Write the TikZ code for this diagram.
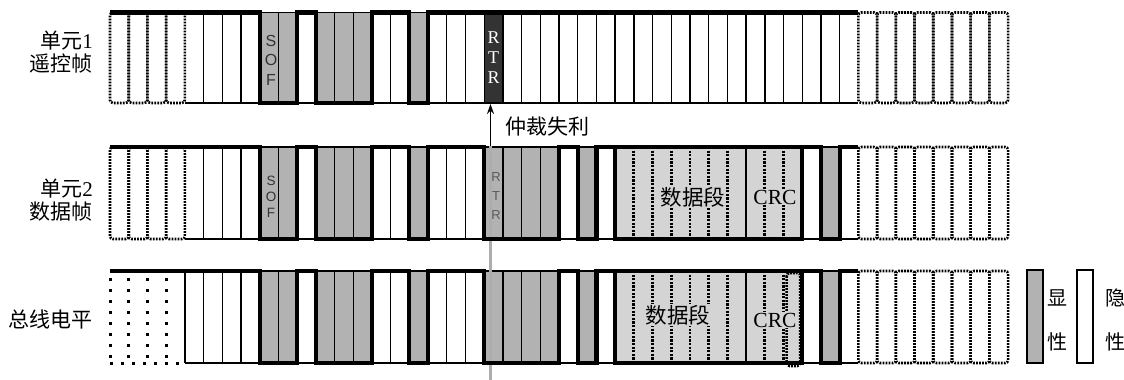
\documentclass[tikz,border=0pt]{standalone}
\usepackage{fontspec}
\setmainfont{Liberation Serif}
\setsansfont{Liberation Sans}
\newfontfamily\cjk{Noto Sans CJK SC}
\usetikzlibrary{arrows.meta}
\definecolor{domgrey}{gray}{0.70}
\definecolor{datagrey}{gray}{0.83}
\definecolor{rtrdark}{gray}{0.20}
\definecolor{guidegrey}{gray}{0.68}
\newcommand\bx[1]{(110+18.71*(#1))}
\tikzset{
  cell/.style={line width=1.4pt},
  wave/.style={line width=4.2pt, line join=miter},
  idle/.style={line width=2.6pt, dash pattern=on 1.8pt off 1.2pt, rounded corners=3pt},
  sparse/.style={line width=3pt, dash pattern=on 3pt off 8pt},
  sep/.style={line width=2.8pt, dash pattern=on 2.2pt off 1.4pt},
  lbl/.style={font=\cjk\fontsize{21}{22.5}\selectfont, align=right, anchor=east, inner sep=0pt},
  cjktxt/.style={font=\cjk\fontsize{21}{22}\selectfont, inner sep=0pt},
  crctxt/.style={font=\fontsize{21.5}{22}\selectfont, inner sep=1pt, fill=datagrey},
  fieldtxt/.style={font=\cjk\fontsize{21.5}{22}\selectfont, inner sep=1pt, fill=datagrey},
  legtxt/.style={font=\cjk\fontsize{20}{22}\selectfont, inner sep=0pt},
  legbox/.style={draw, line width=1.4pt, minimum width=16pt, minimum height=93pt, inner sep=0pt},
}
\begin{document}
\begin{tikzpicture}[x=1pt,y=-1pt]
\useasboundingbox (0,0) rectangle (1124,380);

% ---------- fills ----------
\foreach \yt/\yb in {12.5/103,147/239,271/363}{
  \foreach \a/\b in {8/10,11/14,16/17}
    \fill[domgrey] ({\bx{\a}},\yt) rectangle ({\bx{\b}},\yb);
}
\fill[rtrdark] ({\bx{20}},12.5) rectangle ({\bx{21}},103);
\foreach \yt/\yb in {147/239,271/363}{
  \foreach \a/\b in {20/24,25/26,38/39}
    \fill[domgrey] ({\bx{\a}},\yt) rectangle ({\bx{\b}},\yb);
  \fill[datagrey] ({\bx{27}},\yt) rectangle ({\bx{37}},\yb);
}

% ---------- thin cell lines ----------
\foreach \i in {5,...,39} \draw[cell] ({\bx{\i}},12.5) -- ({\bx{\i}},103);
\draw[cell] ({\bx{4}},12.5) -- ({\bx{40}},12.5) ({\bx{4}},103) -- ({\bx{40}},103);
\foreach \i in {5,...,27,34,37,38,39} \draw[cell] ({\bx{\i}},147) -- ({\bx{\i}},239);
\draw[cell] ({\bx{4}},147) -- ({\bx{40}},147) ({\bx{4}},239) -- ({\bx{40}},239);
\foreach \i in {4,...,27,34,37,38,39} \draw[cell] ({\bx{\i}},271) -- ({\bx{\i}},363);
\draw[cell] ({\bx{4}},271) -- ({\bx{40}},271) ({\bx{4}},363) -- ({\bx{40}},363);

% ---------- dotted separators in data / CRC fields ----------
\foreach \yt/\yb in {147/239,271/363}{
  \foreach \i in {28,...,33,35,36}
    \draw[sep] ({\bx{\i}},\yt) -- ({\bx{\i}},\yb);
}
% dotted last CRC bit on the bus row
\draw[idle] ({\bx{36}+3},273) rectangle ({\bx{37}-2},366);

% ---------- idle bits ----------
\foreach \i in {0,...,3}{
  \draw[idle] ({\bx{\i}},12.5) rectangle ({\bx{\i+1}},103);
  \draw[idle] ({\bx{\i}},147) rectangle ({\bx{\i+1}},239);
}
\foreach \i in {40,...,47}{
  \draw[idle] ({\bx{\i}},12.5) rectangle ({\bx{\i+1}},103);
  \draw[idle] ({\bx{\i}},147) rectangle ({\bx{\i+1}},239);
  \draw[idle] ({\bx{\i}},271) rectangle ({\bx{\i+1}},363);
}
\foreach \i in {0,...,3} \draw[sparse] ({\bx{\i}},278) -- ({\bx{\i}},363);
\draw[sparse] ({\bx{0}},363) -- ({\bx{4}},363);

% ---------- arbitration marker ----------
\coordinate (r1b) at (490.5,104);
\coordinate (r2t) at (490.5,146);
\coordinate (gbot) at (490.5,380);
\draw[guidegrey, line width=2.6pt] (r2t) -- (gbot);
\draw[line width=1.5pt, -{Stealth[length=10pt,width=7pt]}] (r2t) -- (r1b);

% ---------- waveforms ----------
\draw[wave] ({\bx{0}},12.5) -- ({\bx{8}},12.5) -- ({\bx{8}},103) -- ({\bx{10}},103) -- ({\bx{10}},12.5)
  -- ({\bx{11}},12.5) -- ({\bx{11}},103) -- ({\bx{14}},103) -- ({\bx{14}},12.5) -- ({\bx{16}},12.5)
  -- ({\bx{16}},103) -- ({\bx{17}},103) -- ({\bx{17}},12.5) -- ({\bx{40}},12.5);
\foreach \yt/\yb in {147/239,271/363}{
  \draw[wave] ({\bx{0}},\yt) -- ({\bx{8}},\yt) -- ({\bx{8}},\yb) -- ({\bx{10}},\yb) -- ({\bx{10}},\yt)
    -- ({\bx{11}},\yt) -- ({\bx{11}},\yb) -- ({\bx{14}},\yb) -- ({\bx{14}},\yt) -- ({\bx{16}},\yt)
    -- ({\bx{16}},\yb) -- ({\bx{17}},\yb) -- ({\bx{17}},\yt) -- ({\bx{20}},\yt) -- ({\bx{20}},\yb)
    -- ({\bx{24}},\yb) -- ({\bx{24}},\yt) -- ({\bx{25}},\yt) -- ({\bx{25}},\yb) -- ({\bx{26}},\yb)
    -- ({\bx{26}},\yt) -- ({\bx{38}},\yt) -- ({\bx{38}},\yb) -- ({\bx{39}},\yb) -- ({\bx{39}},\yt)
    -- ({\bx{40}},\yt);
  \draw[wave] ({\bx{27}},\yt) -- ({\bx{27}},\yb) -- ({\bx{37}},\yb) -- ({\bx{37}},\yt);
  \draw[line width=2.4pt] ({\bx{34}},\yt) -- ({\bx{34}},\yb);
}

% ---------- texts ----------
\node[lbl] (lab1) at (93,52) {单元\textrm{1}\\遥控帧};
\node[lbl] (lab2) at (93,200) {单元\textrm{2}\\数据帧};
\node[lbl] (lab3) at (93,319) {总线电平};

\node[font=\sffamily\fontsize{16}{19.5}\selectfont, text=black!80, align=center, inner sep=0pt] (sof1) at (271,60) {S\\O\\F};
\node[font=\sffamily\fontsize{13.5}{16}\selectfont, text=black!80, align=center, inner sep=0pt] (sof2) at (271,197) {S\\O\\F};
\node[font=\fontsize{18}{20}\selectfont, text=white, align=center, inner sep=0pt] (rtr1) at (493.6,58) {R\\T\\R};
\node[font=\sffamily\fontsize{13}{19}\selectfont, text=black!65, align=center, inner sep=0pt] (rtr2) at (496,196) {R\\T\\R};

\node[cjktxt] (lost) at (547,127) {仲裁失利};

\node[fieldtxt] (data2) at (693,197) {数据段};
\node[crctxt] (crc2) at (775,197) {CRC};
\node[fieldtxt] (data3) at (678,315) {数据段};
\node[crctxt] (crc3) at (775,320) {CRC};

% ---------- legend ----------
\node[legbox, fill=domgrey] (legdom) at (1035,316.5) {};
\node[legbox, fill=white] (legrec) at (1085,316.5) {};
\node[legtxt] (ld1) at (1057,298) {显};
\node[legtxt] (ld2) at (1057,342) {性};
\node[legtxt] (lr1) at (1115,298) {隐};
\node[legtxt] (lr2) at (1115,342) {性};
\end{tikzpicture}
\end{document}
